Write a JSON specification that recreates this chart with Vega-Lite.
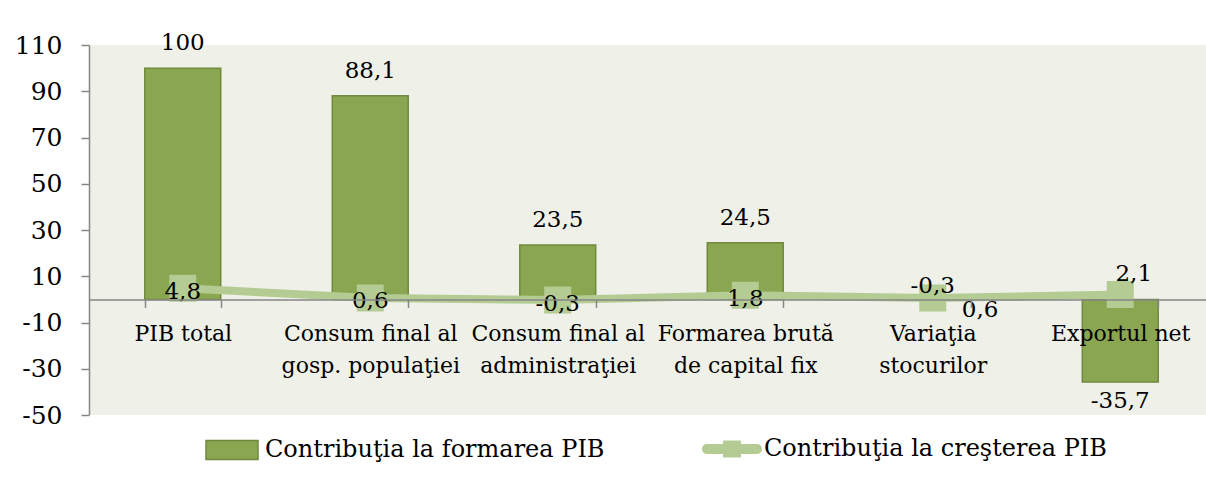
{
  "$schema": "https://vega.github.io/schema/vega-lite/v6.json",
  "width": 1125,
  "height": 370,
  "autosize": "none",
  "padding": {"left": 89, "top": 45, "right": 0, "bottom": 76},
  "background": "white",
  "data": {
    "values": [
      {"cat": "PIB total", "bar": 100, "line": 4.8},
      {"cat": "Consum final al|gosp. populaţiei", "bar": 88.1, "line": 0.6},
      {"cat": "Consum final al|administraţiei", "bar": 23.5, "line": -0.3},
      {"cat": "Formarea brută|de capital fix", "bar": 24.5, "line": 1.8},
      {"cat": "Variaţia|stocurilor", "bar": -0.3, "line": 0.6},
      {"cat": "Exportul net", "bar": -35.7, "line": 2.1}
    ]
  },
  "transform": [
    {"calculate": "replace(toString(datum.bar), '.', ',')", "as": "barLab"},
    {"calculate": "replace(toString(datum.line), '.', ',')", "as": "lineLab"}
  ],
  "encoding": {
    "x": {
      "field": "cat",
      "type": "nominal",
      "sort": null,
      "scale": {"paddingInner": 0.595, "paddingOuter": 0.2975},
      "axis": {
        "orient": "bottom",
        "offset": -115.6,
        "title": null,
        "tickBand": "extent",
        "tickSize": 8,
        "labelAngle": 0,
        "labelPadding": 33,
        "labelBaseline": "alphabetic",
        "labelFontSize": 22,
        "labelLineHeight": 32,
        "labelLimit": 0,
        "labelOverlap": false,
        "labelBound": false,
        "labelExpr": "split(datum.label, '|')",
        "zindex": 1
      }
    }
  },
  "layer": [
    {
      "mark": {"type": "bar", "stroke": "#71893F", "strokeWidth": 1.5},
      "encoding": {
        "y": {
          "field": "bar",
          "type": "quantitative",
          "scale": {"domain": [-50, 110], "nice": false, "zero": false},
          "axis": {
            "title": null,
            "values": [-50, -30, -10, 10, 30, 50, 70, 90, 110],
            "labelExpr": "toString(datum.value)",
            "tickSize": 8,
            "labelPadding": 19,
            "labelFontSize": 25,
            "grid": false
          }
        },
        "fill": {
          "datum": "Contribuţia la formarea PIB",
          "type": "nominal",
          "scale": {"domain": ["Contribuţia la formarea PIB"], "range": ["#8BA650"]},
          "legend": {
            "title": null,
            "orient": "none",
            "legendX": 112,
            "legendY": 374,
            "padding": 0,
            "labelFontSize": 24,
            "labelColor": "black",
            "labelOffset": 2,
            "labelLimit": 0,
            "symbolSize": 3600,
            "symbolType": "M-0.867,-0.32H0.867V0.32H-0.867Z",
            "symbolStrokeColor": "#71893F",
            "symbolStrokeWidth": 1.5,
            "symbolOpacity": 1
          }
        }
      }
    },
    {
      "mark": {
        "type": "line",
        "strokeWidth": 8,
        "point": {"shape": "square", "size": 625, "filled": true, "fill": "#B4CC93", "stroke": null, "opacity": 1}
      },
      "encoding": {
        "y": {"field": "line", "type": "quantitative"},
        "stroke": {
          "datum": "Contribuţia la creşterea PIB",
          "type": "nominal",
          "scale": {"domain": ["Contribuţia la creşterea PIB"], "range": ["#B4CC93"]},
          "legend": {
            "title": null,
            "orient": "none",
            "legendX": 613,
            "legendY": 374,
            "padding": 0,
            "labelFontSize": 24,
            "labelColor": "black",
            "labelOffset": 2,
            "labelLimit": 0,
            "symbolSize": 3600,
            "symbolType": "M-0.833,-0.167H0.833A0.167,0.167 0 0 1 0.833,0.167H-0.833A0.167,0.167 0 0 1 -0.833,-0.167Z M-0.3,-0.283H0.3V0.283H-0.3Z",
            "symbolFillColor": "#B4CC93",
            "symbolStrokeWidth": 0,
            "symbolOpacity": 1
          }
        }
      }
    },
    {
      "transform": [{"filter": "datum.bar >= 1"}],
      "mark": {"type": "text", "fontSize": 23, "baseline": "alphabetic", "dy": -18, "color": "black"},
      "encoding": {"y": {"field": "bar", "type": "quantitative"}, "text": {"field": "barLab"}}
    },
    {
      "transform": [{"filter": "datum.bar <= -1"}],
      "mark": {"type": "text", "fontSize": 23, "baseline": "alphabetic", "dy": 26, "color": "black"},
      "encoding": {"y": {"field": "bar", "type": "quantitative"}, "text": {"field": "barLab"}}
    },
    {
      "transform": [{"filter": "datum.bar > -1 && datum.bar < 1"}],
      "mark": {"type": "text", "fontSize": 23, "baseline": "alphabetic", "dy": -7, "color": "black"},
      "encoding": {"y": {"field": "bar", "type": "quantitative"}, "text": {"field": "barLab"}}
    },
    {
      "transform": [{"filter": "datum.cat !== 'Variaţia|stocurilor' && datum.cat !== 'Exportul net'"}],
      "mark": {"type": "text", "fontSize": 23, "baseline": "alphabetic", "dy": 10.5, "color": "black"},
      "encoding": {"y": {"field": "line", "type": "quantitative"}, "text": {"field": "lineLab"}}
    },
    {
      "transform": [{"filter": "datum.cat === 'Variaţia|stocurilor'"}],
      "mark": {"type": "text", "fontSize": 23, "baseline": "alphabetic", "align": "left", "dx": 29, "dy": 19, "color": "black"},
      "encoding": {"y": {"field": "line", "type": "quantitative"}, "text": {"field": "lineLab"}}
    },
    {
      "transform": [{"filter": "datum.cat === 'Exportul net'"}],
      "mark": {"type": "text", "fontSize": 23, "baseline": "alphabetic", "dx": 13.5, "dy": -13.5, "color": "black"},
      "encoding": {"y": {"field": "line", "type": "quantitative"}, "text": {"field": "lineLab"}}
    }
  ],
  "config": {
    "font": "DejaVu Serif",
    "view": {"fill": "#EFF1E8", "stroke": null},
    "axis": {
      "domainColor": "#868686",
      "tickColor": "#868686",
      "domainWidth": 1.5,
      "tickWidth": 1.5,
      "labelColor": "black",
      "labelFont": "DejaVu Serif"
    },
    "legend": {"labelFont": "DejaVu Serif"}
  }
}
